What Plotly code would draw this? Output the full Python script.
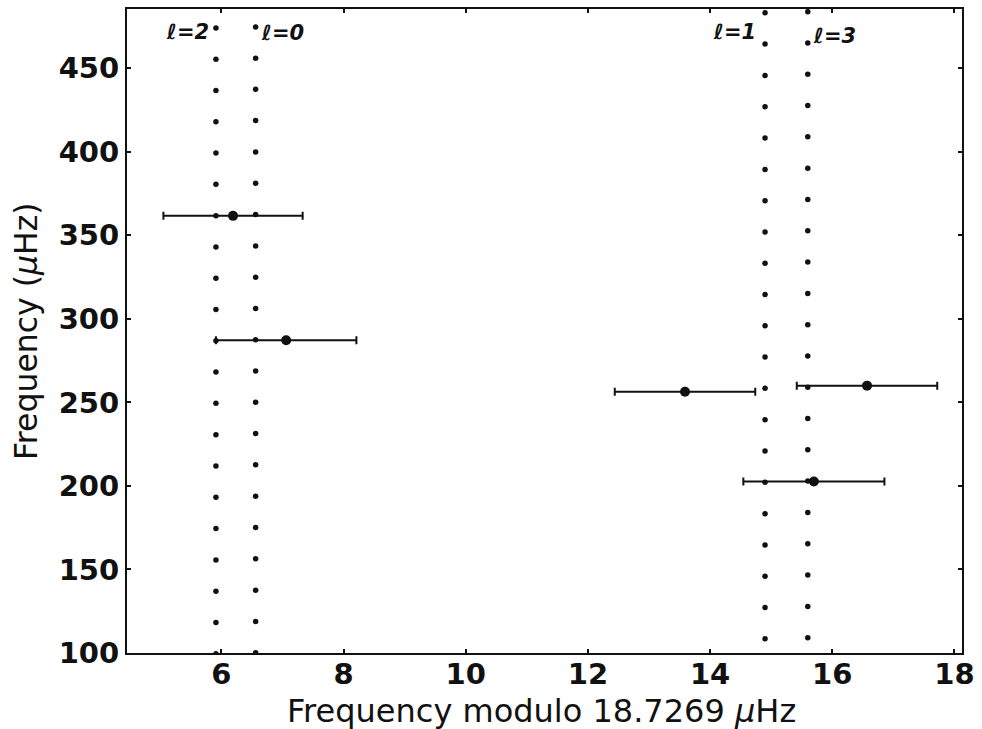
import plotly.graph_objects as go

# Large frequency separation used to fold the spectrum (muHz)
DELTA_NU = 18.7269

# Model mode frequencies (muHz) and their folded positions, by angular degree
l2_x = 5.91
l2_freq = [99.5, 118.3, 137.0, 155.7, 174.5, 193.2, 211.9, 230.6, 249.4, 268.1,
           286.8, 305.5, 324.3, 343.0, 361.7, 380.5, 399.2, 417.9, 436.6, 455.4, 474.1]
l0_x = 6.56
l0_freq = [100.2, 118.9, 137.6, 156.4, 175.1, 193.8, 212.6, 231.3, 250.0, 268.7,
           287.5, 306.2, 324.9, 343.6, 362.4, 381.1, 399.8, 418.6, 437.3, 456.0, 474.7]
l1_x = 14.9
l1_freq = [108.5, 127.3, 146.0, 164.7, 183.4, 202.2, 220.9, 239.6, 258.4, 277.1,
           295.8, 314.5, 333.3, 352.0, 370.7, 389.4, 408.2, 426.9, 445.6, 464.4, 483.1]
l3_x = 15.6
l3_freq = [109.2, 127.9, 146.7, 165.4, 184.1, 202.9, 221.6, 240.3, 259.1, 277.8,
           296.5, 315.2, 334.0, 352.7, 371.4, 390.1, 408.9, 427.6, 446.3, 465.1, 483.8]

# Observed frequencies with uncertainties on the folded position
obs_mod = [6.19, 7.06, 13.59, 16.57, 15.70]
obs_freq = [361.6, 287.2, 256.3, 260.0, 202.6]
obs_err = [1.14, 1.15, 1.15, 1.15, 1.155]

# Degree labels placed above each ridge
deg_text = ["ℓ=2", "ℓ=0", "ℓ=1", "ℓ=3"]
deg_x = [5.44, 7.0, 14.4, 16.03]
deg_y = [471.5, 471.0, 471.5, 469.5]

x_ticks = [6, 8, 10, 12, 14, 16, 18]
y_ticks = [100, 150, 200, 250, 300, 350, 400, 450]

fig = go.Figure()

for xpos, freqs in [(l2_x, l2_freq), (l0_x, l0_freq), (l1_x, l1_freq), (l3_x, l3_freq)]:
    fig.add_trace(go.Scatter(
        x=[xpos] * len(freqs), y=freqs, mode="markers",
        marker=dict(size=5.5, color="#111111"),
        showlegend=False, hoverinfo="skip",
    ))

fig.add_trace(go.Scatter(
    x=obs_mod, y=obs_freq, mode="markers",
    marker=dict(size=10, color="#111111"),
    error_x=dict(type="data", array=obs_err, visible=True,
                 color="#111111", thickness=2, width=4),
    showlegend=False,
))

for t, xx, yy in zip(deg_text, deg_x, deg_y):
    fig.add_annotation(
        x=xx, y=yy, xref="x", yref="y", text="<b><i>" + t + "</i></b>",
        showarrow=False, font=dict(family="DejaVu Sans", size=21, color="#111111"),
    )

# Axis titles
fig.add_annotation(
    x=0.496, y=0, xref="paper", yref="paper", yshift=-58,
    text="Frequency modulo 18.7269 <i>μ</i>Hz", showarrow=False,
    xanchor="center", yanchor="middle",
    font=dict(family="DejaVu Sans", size=32, color="#111111"),
)
fig.add_annotation(
    x=0, y=0.5, xref="paper", yref="paper", xshift=-101,
    text="Frequency (<i>μ</i>Hz)", showarrow=False, textangle=-90,
    xanchor="center", yanchor="middle",
    font=dict(family="DejaVu Sans", size=31.5, color="#111111"),
)

axis_common = dict(
    showgrid=False, zeroline=False, showline=True, linecolor="#111111",
    linewidth=2, mirror="allticks", ticks="inside", ticklen=4, tickwidth=1.5,
    tickcolor="#111111",
    tickfont=dict(family="DejaVu Sans", size=29, color="#111111", weight="bold"),
)

fig.update_xaxes(range=[4.454, 18.125], tickvals=x_ticks, ticklabelstandoff=-6,
                 **axis_common)
fig.update_yaxes(range=[100, 485.4], tickvals=y_ticks, **axis_common)

fig.update_layout(
    width=982, height=729,
    margin=dict(l=127, r=15, t=7, b=76),
    paper_bgcolor="white", plot_bgcolor="white",
)

fig.write_html("out.html")
